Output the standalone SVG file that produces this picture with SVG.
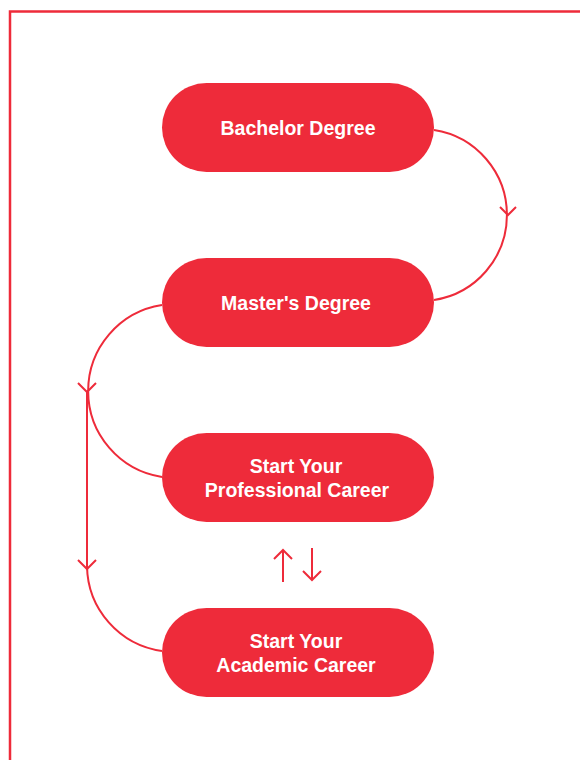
<svg xmlns="http://www.w3.org/2000/svg" width="580" height="760" viewBox="0 0 580 760">
<style>
.node{fill:#EE2B3A}
.lbl{fill:#FFFFFF;font-family:"Liberation Sans",Arial,sans-serif;font-weight:bold;font-size:19.5px;text-anchor:middle}
.conn{fill:none;stroke:#EE2B3A;stroke-width:2;stroke-linecap:butt;stroke-linejoin:miter}
</style>
<rect x="10" y="11.5" width="590" height="780" fill="none" stroke="#EE2B3A" stroke-width="2.5"/>
<g id="connectors">
<path class="conn" d="M434,130 A86,86 0 0 1 434,300"/>
<path class="conn" d="M500,207 L508,215 L516,207"/>
<path class="conn" d="M162,305 A87,87 0 0 0 162,477"/>
<path class="conn" d="M78,383 L87,392 L96,383"/>
<path class="conn" d="M87,391 V566 A87,87 0 0 0 162,651"/>
<path class="conn" d="M78,560 L87,569 L96,560"/>
<path class="conn" d="M283,582 V550 M274,559 L283,550 L292,559"/>
<path class="conn" d="M312,548 V580 M303,571 L312,580 L321,571"/>
</g>
<g id="bachelor">
<rect class="node" x="162" y="83" width="272" height="89" rx="44.5"/>
<text class="lbl" x="298" y="135">Bachelor Degree</text>
</g>
<g id="master">
<rect class="node" x="162" y="258" width="272" height="89" rx="44.5"/>
<text class="lbl" x="296" y="309.5">Master's Degree</text>
</g>
<g id="professional">
<rect class="node" x="162" y="433" width="272" height="89" rx="44.5"/>
<text class="lbl" x="296" y="472.5">Start Your</text>
<text class="lbl" x="297" y="496.5">Professional Career</text>
</g>
<g id="academic">
<rect class="node" x="162" y="608" width="272" height="89" rx="44.5"/>
<text class="lbl" x="296" y="647.5">Start Your</text>
<text class="lbl" x="296" y="671.5">Academic Career</text>
</g>
</svg>
